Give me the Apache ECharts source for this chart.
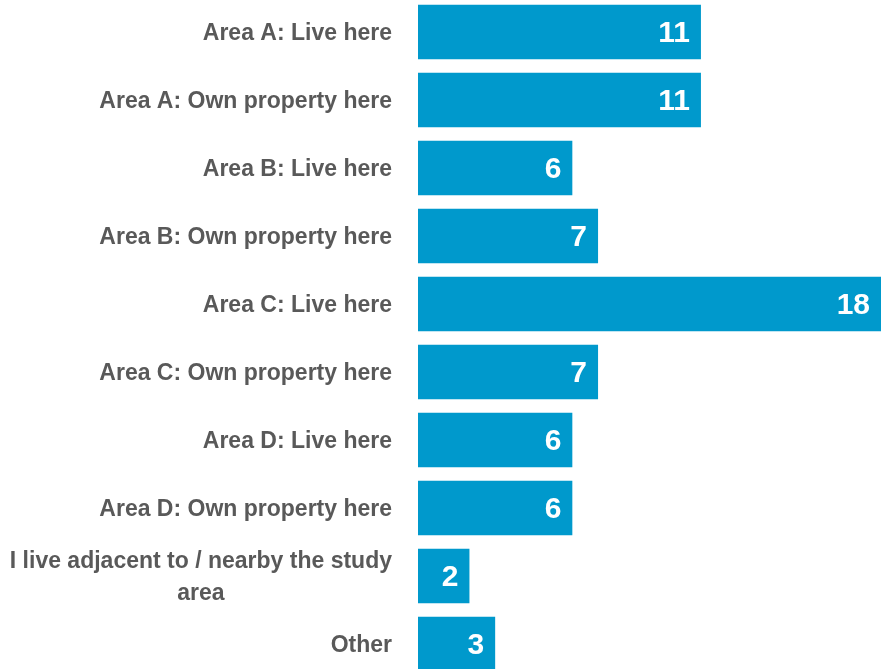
<!DOCTYPE html>
<html>
<head>
<meta charset="utf-8">
<script src="https://cdn.jsdelivr.net/npm/echarts@6/dist/echarts.min.js"></script>
<style>html,body{margin:0;padding:0;background:#fff}#c{width:882px;height:669px}</style>
</head>
<body>
<div id="c"></div>
<script>
var categories = [
  "Area A: Live here",
  "Area A: Own property here",
  "Area B: Live here",
  "Area B: Own property here",
  "Area C: Live here",
  "Area C: Own property here",
  "Area D: Live here",
  "Area D: Own property here",
  "I live adjacent to / nearby the study\narea",
  "Other"
];
var values = [11, 11, 6, 7, 18, 7, 6, 6, 2, 3];

var FONT = '"Liberation Sans Narrow", "Arial Narrow", "Liberation Sans", Arial, sans-serif';
var chart = echarts.init(document.getElementById('c'));
chart.setOption({
  animation: false,
  grid: { left: 418, right: 1, top: -2, bottom: -9, containLabel: false, outerBoundsMode: 'none' },
  xAxis: { type: 'value', min: 0, max: 18, show: false },
  yAxis: {
    type: 'category',
    inverse: true,
    data: categories,
    axisLine: { show: false },
    axisTick: { show: false },
    axisLabel: {
      margin: 26,
      padding: [3, 0, 0, 0],
      formatter: function (v) {
        return v.split('\n').map(function (l) { return '{c|' + l + '}'; }).join('\n');
      },
      rich: {
        c: { align: 'center', fontFamily: FONT, fontWeight: 'bold', fontSize: 23, color: '#595959', lineHeight: 32 }
      }
    }
  },
  series: [{
    type: 'bar',
    data: values,
    barWidth: '80%',
    itemStyle: { color: '#0099CC' },
    label: {
      show: true,
      position: 'insideRight',
      distance: 11,
      offset: [0, 2],
      color: '#ffffff',
      fontFamily: FONT,
      fontWeight: 'bold',
      fontSize: 30
    }
  }]
});
</script>
</body>
</html>
